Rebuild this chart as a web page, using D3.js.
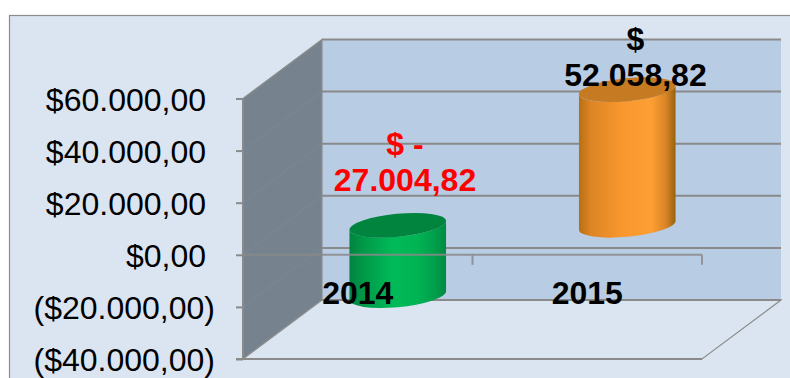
<!DOCTYPE html>
<html>
<head>
<meta charset="utf-8">
<script src="https://cdn.jsdelivr.net/npm/d3@7"></script>
<style>
    html, body { margin: 0; padding: 0; background: #fff; }
    svg { display: block; }
    text { font-family: "Liberation Sans", Arial, sans-serif; }
</style>
</head>
<body>
<div id="chart"></div>
<script>
const categories = ["2014", "2015"];
const values = [-27004.82, 52058.82];
const labelLines = [["$ -", "27.004,82"], ["$", "52.058,82"]];
const labelColors = ["#ff0000", "#000000"];
const tickValues = [60000, 40000, 20000, 0, -20000, -40000];
const tickLabels = ["$60.000,00", "$40.000,00", "$20.000,00", "$0,00", "($20.000,00)", "($40.000,00)"];

const width = 790, height = 378;
const gridColor = "#8a8a8a";
const fontSize = 32;

// front plane of the fake 3d box, the back wall is shifted by depth
const x = d3.scaleBand().domain(categories).range([243, 702]);
const y = d3.scaleLinear().domain([-40000, 60000]).range([359, 98.5]);
const depth = {x: 79, y: -59};

const svg = d3.select("#chart").append("svg")
    .attr("width", width)
    .attr("height", height);

// outer panel, only the top and left borders are visible
svg.append("rect")
    .attr("x", 9.5).attr("y", 15.5)
    .attr("width", width).attr("height", height)
    .attr("fill", "#dbe5f1")
    .attr("stroke", "#8c8c8c")
    .attr("stroke-width", 1.2);

const defs = svg.append("defs");

function addGradient(id, stops){
    const grad = defs.append("linearGradient").attr("id", id)
        .attr("x1", "0%").attr("x2", "100%").attr("y1", "0%").attr("y2", "0%");
    stops.forEach(s => grad.append("stop").attr("offset", s[0]).attr("stop-color", s[1]));
}
addGradient("side0", [["0%", "#00843f"], ["15%", "#009a49"], ["45%", "#00ba58"], ["70%", "#00b454"], ["90%", "#009c4a"], ["100%", "#008a42"]]);
addGradient("side1", [["0%", "#b86f14"], ["12%", "#dd8424"], ["45%", "#f8982f"], ["75%", "#fd9e33"], ["90%", "#d98426"], ["100%", "#96620f"]]);
const capColors = ["#01853e", "#c67a22"];

const backX0 = x.range()[0] + depth.x, backX1 = x.range()[1] + depth.x;
const frontX0 = x.range()[0], frontX1 = x.range()[1];
const yBottom = y(-40000), yTop = y(60000);

// back wall
svg.append("rect")
    .attr("x", backX0).attr("y", yTop + depth.y)
    .attr("width", backX1 - backX0).attr("height", yBottom - yTop)
    .attr("fill", "#b8cce4");

// side wall
svg.append("path")
    .attr("d", d3.line()([[frontX0, yTop], [backX0, yTop + depth.y], [backX0, yBottom + depth.y], [frontX0, yBottom]]))
    .attr("fill", "#76838f")
    .attr("stroke", "#8c8c8c")
    .attr("stroke-width", 1.2);

// floor
svg.append("path")
    .attr("d", d3.line()([[frontX0, yBottom], [backX0, yBottom + depth.y], [backX1, yBottom + depth.y], [frontX1, yBottom]]) + "Z")
    .attr("fill", "#dbe5f1")
    .attr("stroke", "#8c8c8c")
    .attr("stroke-width", 1.2);

// gridlines on the back wall
svg.append("g").selectAll("line")
    .data(tickValues)
    .join("line")
    .attr("x1", backX0).attr("x2", backX1)
    .attr("y1", d => y(d) + depth.y).attr("y2", d => y(d) + depth.y)
    .attr("stroke", gridColor)
    .attr("stroke-width", 2);

// faint gridlines on the side wall
svg.append("g").selectAll("line")
    .data(tickValues.slice(1, 5))
    .join("line")
    .attr("x1", frontX0).attr("x2", backX0)
    .attr("y1", d => y(d)).attr("y2", d => y(d) + depth.y)
    .attr("stroke", "#7d8892")
    .attr("stroke-width", 1);

// front bottom edge
svg.append("line")
    .attr("x1", frontX0 - 7).attr("x2", frontX1)
    .attr("y1", yBottom).attr("y2", yBottom)
    .attr("stroke", gridColor)
    .attr("stroke-width", 2);

// cylinders sit half way into the depth
const rx = 48.5, ry = 11.5, tilt = -5.5;

function cylinderPath(cx, yA, yB){
    const t = tilt * Math.PI / 180;
    const ex = Math.sqrt(rx*rx*Math.cos(t)*Math.cos(t) + ry*ry*Math.sin(t)*Math.sin(t));
    const ey = (rx*rx - ry*ry) * Math.sin(t) * Math.cos(t) / ex;
    return `M${cx - ex},${yA - ey} L${cx - ex},${yB - ey} `
        + `A${rx},${ry} ${tilt} 0 0 ${cx + ex},${yB + ey} `
        + `L${cx + ex},${yA + ey} A${rx},${ry} ${tilt} 0 1 ${cx - ex},${yA - ey}Z`;
}

categories.forEach((c, i) => {
    const cx = x(c) + x.bandwidth() / 2 + depth.x / 2 + 0.5;
    const zero = y(0) + depth.y / 2;
    const end = y(values[i]) + depth.y / 2;
    const yUp = Math.min(zero, end), yDown = Math.max(zero, end);

    svg.append("path")
        .attr("d", cylinderPath(cx, yUp, yDown))
        .attr("fill", `url(#side${i})`);
    svg.append("ellipse")
        .attr("rx", rx).attr("ry", ry)
        .attr("transform", `translate(${cx},${yUp}) rotate(${tilt})`)
        .attr("fill", capColors[i]);
});

// category axis at zero, drawn over the bars
const zeroLine = svg.append("g").attr("opacity", 0.85);
zeroLine.append("line")
    .attr("x1", frontX0).attr("x2", frontX1)
    .attr("y1", y(0)).attr("y2", y(0))
    .attr("stroke", gridColor)
    .attr("stroke-width", 2);
zeroLine.selectAll(".tick-mark")
    .data(categories)
    .join("line")
    .attr("class", "tick-mark")
    .attr("x1", d => x(d) + x.bandwidth()).attr("x2", d => x(d) + x.bandwidth())
    .attr("y1", y(0)).attr("y2", y(0) + 10)
    .attr("stroke", gridColor)
    .attr("stroke-width", 2);

svg.selectAll(".cat-label")
    .data(categories)
    .join("text")
    .attr("class", "cat-label")
    .attr("x", d => x(d) + x.bandwidth() / 2)
    .attr("y", 304)
    .attr("text-anchor", "middle")
    .attr("font-size", fontSize)
    .attr("font-weight", "bold")
    .attr("fill", "#000")
    .text(d => d);

// value axis
const yAxis = d3.axisLeft(y)
    .tickValues(tickValues)
    .tickFormat((d, i) => tickLabels[i])
    .tickSize(7)
    .tickPadding(0);

const axisG = svg.append("g")
    .attr("transform", `translate(${frontX0},0)`)
    .call(yAxis);
axisG.select(".domain").attr("stroke", gridColor).attr("stroke-width", 2).attr("d", `M0,${yTop}V${yBottom}`);
axisG.selectAll(".tick line").attr("stroke", gridColor).attr("stroke-width", 2);
axisG.selectAll(".tick text")
    .attr("font-family", '"Liberation Sans", Arial, sans-serif')
    .attr("font-size", fontSize)
    .attr("fill", "#000")
    .attr("x", d => d < 0 ? -28 : -37)
    .attr("dy", 11.5);

// data labels, two lines each
const labelX = [405, 635.5];
const labelBase = [191, 86];
categories.forEach((c, i) => {
    labelLines[i].forEach((line, j) => {
        svg.append("text")
            .attr("x", labelX[i])
            .attr("y", labelBase[i] - (labelLines[i].length - 1 - j) * 36)
            .attr("text-anchor", "middle")
            .attr("font-size", fontSize)
            .attr("font-weight", "bold")
            .attr("fill", labelColors[i])
            .text(line);
    });
});
</script>
</body>
</html>
